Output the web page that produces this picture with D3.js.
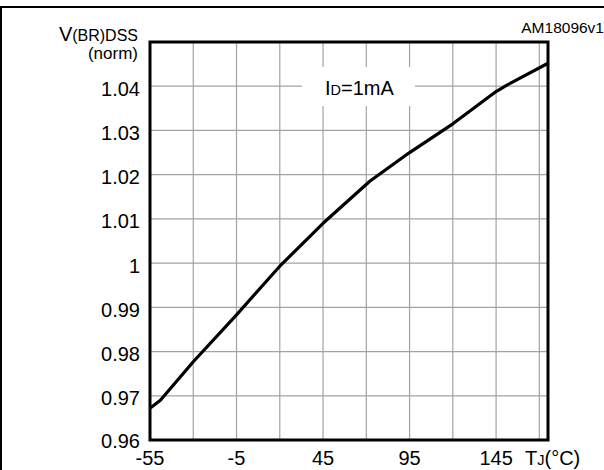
<!DOCTYPE html>
<html>
<head>
<meta charset="utf-8">
<script src="https://cdn.jsdelivr.net/npm/d3@7"></script>
<style>
  html, body { margin: 0; padding: 0; background: #fff; }
  svg { display: block; font-family: "Liberation Sans", Arial, sans-serif; }
</style>
</head>
<body>
<svg id="chart" width="604" height="470"></svg>
<script>
// ---- data ----
const tempC = [-55, -49, -30, -5, 20, 45, 72, 95, 120, 145, 151, 175];
const vNorm = [0.9672, 0.9690, 0.9777, 0.9883, 0.9993, 1.0090, 1.0185, 1.0250, 1.0315, 1.0388, 1.0402, 1.0452];
const xGrid = [-30, -5, 20, 45, 70, 95, 120, 145, 170];
const yGrid = [0.97, 0.98, 0.99, 1.00, 1.01, 1.02, 1.03, 1.04];
const xTickLabels = [-55, -5, 45, 95, 145];
const yTickLabels = [0.96, 0.97, 0.98, 0.99, 1.00, 1.01, 1.02, 1.03, 1.04];

const svg = d3.select("#chart");
const L = 150, R = 548, T = 42, B = 440;
const x = d3.scaleLinear().domain([-55, 175]).range([L, R]);
const y = d3.scaleLinear().domain([0.96, 1.05]).range([B, T]);

// outer frame (left and top edges visible)
svg.append("line").attr("x1", 1).attr("x2", 1).attr("y1", 6).attr("y2", 470)
  .attr("stroke", "#000").attr("stroke-width", 2);
svg.append("line").attr("x1", 0).attr("x2", 604).attr("y1", 7).attr("y2", 7)
  .attr("stroke", "#000").attr("stroke-width", 2);

// grid
const grid = svg.append("g").attr("stroke", "#a3a3a3").attr("stroke-width", 1.2);
grid.selectAll(".gx").data(xGrid).join("line")
  .attr("x1", d => x(d)).attr("x2", d => x(d)).attr("y1", T).attr("y2", B);
grid.selectAll(".gy").data(yGrid).join("line")
  .attr("x1", L).attr("x2", R).attr("y1", d => y(d)).attr("y2", d => y(d));

// label box
svg.append("rect").attr("x", 302).attr("y", 67).attr("width", 113).attr("height", 39).attr("fill", "#fff");
const lab = svg.append("text").attr("x", 325).attr("y", 95).attr("font-size", 20).attr("fill", "#000");
lab.append("tspan").text("I");
lab.append("tspan").attr("font-size", 14.5).text("D");
lab.append("tspan").text("=1mA");

// curve
const pts = tempC.map((t, i) => [t, vNorm[i]]);
const line = d3.line().x(d => x(d[0])).y(d => y(d[1]));
svg.append("path").datum(pts).attr("d", line)
  .attr("fill", "none").attr("stroke", "#000").attr("stroke-width", 3.2).attr("stroke-linejoin", "round");

// plot frame
svg.append("rect").attr("x", L).attr("y", T).attr("width", R - L).attr("height", B - T)
  .attr("fill", "none").attr("stroke", "#000").attr("stroke-width", 3);

// y tick labels
const fmtY = d => d === 1 ? "1" : d3.format(".2f")(d);
svg.selectAll(".yl").data(yTickLabels).join("text")
  .attr("x", 140).attr("y", d => Math.min(y(d) + 9.5, 448))
  .attr("text-anchor", "end").attr("font-size", 20).text(fmtY);

// x tick labels
svg.selectAll(".xl").data(xTickLabels).join("text")
  .attr("x", d => x(d)).attr("y", 465)
  .attr("text-anchor", "middle").attr("font-size", 20).text(d => d);

// axis titles
const yt = svg.append("text").attr("x", 138).attr("y", 41).attr("text-anchor", "end").attr("font-size", 16);
yt.append("tspan").attr("font-size", 20).text("V");
yt.append("tspan").text("(BR)DSS");
svg.append("text").attr("x", 138).attr("y", 59).attr("text-anchor", "end").attr("font-size", 17).text("(norm)");

const xt = svg.append("text").attr("x", 525).attr("y", 465).attr("font-size", 20);
xt.append("tspan").text("T");
xt.append("tspan").attr("font-size", 14.5).text("J");
xt.append("tspan").text("(°C)");

svg.append("text").attr("x", 604).attr("y", 33).attr("text-anchor", "end").attr("font-size", 15.5).text("AM18096v1");
</script>
</body>
</html>
